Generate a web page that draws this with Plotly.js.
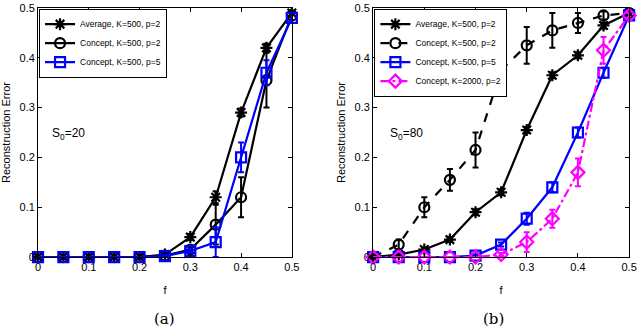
<!DOCTYPE html>
<html><head><meta charset="utf-8">
<script src="https://cdn.plot.ly/plotly-3.0.1.min.js"></script>
<style>html,body{margin:0;padding:0;background:#fff}</style>
</head><body><div id="chart" style="width:640px;height:331px"></div>
<script>
// f values
const f = [0,0.05,0.1,0.15,0.2,0.25,0.3,0.35,0.4,0.45,0.5];

// Panel (a), S0=20
const aAvg      = [0,0,0,0,0,0.005,0.04,0.12,0.29,0.42,0.49];
const aAvgErr   = [0,0,0,0,0,0.002,0.006,0.012,0.008,0.008,0.005];
const aCon2     = [0,0,0,0,0,0.003,0.015,0.065,0.12,0.355,0.485];
const aCon2Err  = [0,0,0,0,0,0.002,0.005,0.04,0.04,0.055,0.01];
const aCon5     = [0,0,0,0,0,0.002,0.012,0.03,0.2,0.37,0.48];
const aCon5Err  = [0,0,0,0,0,0.002,0.004,0.03,0.03,0.025,0.01];

// Panel (b), S0=80
const bAvg      = [0,0.005,0.015,0.035,0.09,0.13,0.255,0.365,0.405,0.465,0.49];
const bAvgErr   = [0,0.002,0.004,0.005,0.006,0.006,0.006,0.006,0.006,0.006,0.004];
const bCon2     = [0,0.025,0.1,0.155,0.215,0.375,0.425,0.455,0.47,0.485,0.49];
const bCon2Err  = [0,0.01,0.02,0.022,0.035,0.035,0.037,0.035,0.02,0.008,0.004];
const bCon5     = [0,0,0,0,0.003,0.025,0.077,0.14,0.25,0.37,0.485];
const bCon5Err  = [0,0,0,0,0.002,0.004,0.012,0.01,0.01,0.01,0.004];
const bCon2k    = [0,0,0,0,0,0.005,0.03,0.077,0.17,0.415,0.485];
const bCon2kErr = [0,0,0,0,0,0.003,0.02,0.018,0.028,0.027,0.005];

const names = ['Average, K=500, p=2','Concept, K=500, p=2','Concept, K=500, p=5','Concept, K=2000, p=2'];
const ticks = [0,0.1,0.2,0.3,0.4,0.5];
const tickText = ['0','0.1','0.2','0.3','0.4','0.5'];

function tr(y, err, name, color, symbol, dash, xa, ya, leg){
  return {x:f, y:y, name:name, type:'scatter', mode:'lines+markers',
    xaxis:xa, yaxis:ya, legend:leg, cliponaxis:false,
    line:{color:color, width:2.2, dash:dash},
    marker:{symbol:symbol, size:10, color:color, line:{color:color, width:2.2}},
    error_y:{type:'data', array:err, visible:true, color:color, thickness:2, width:3}};
}

const data = [
  tr(aAvg,aAvgErr,names[0],'#000','asterisk-open','solid','x','y','legend'),
  tr(aCon2,aCon2Err,names[1],'#000','circle-open','solid','x','y','legend'),
  tr(aCon5,aCon5Err,names[2],'#0000ff','square-open','solid','x','y','legend'),
  tr(bAvg,bAvgErr,names[0],'#000','asterisk-open','solid','x2','y2','legend2'),
  tr(bCon2,bCon2Err,names[1],'#000','circle-open','dash','x2','y2','legend2'),
  tr(bCon5,bCon5Err,names[2],'#0000ff','square-open','solid','x2','y2','legend2'),
  tr(bCon2k,bCon2kErr,names[3],'#ff00ff','diamond-open','dashdot','x2','y2','legend2')
];

const axFont = {family:'Liberation Sans, Arial, sans-serif', size:11, color:'#000'};
function xax(dom, anchor){
  return {domain:dom, anchor:anchor, range:[0,0.5], tickmode:'array', tickvals:ticks, ticktext:tickText,
    ticks:'inside', ticklen:4, tickcolor:'#000', showline:true, linecolor:'#000', linewidth:1,
    mirror:'ticks', showgrid:false, zeroline:false, tickfont:axFont,
    title:{text:'f', font:axFont, standoff:14}};
}
function yax(anchor){
  return {domain:[0.229,1], anchor:anchor, range:[0,0.5], tickmode:'array', tickvals:ticks, ticktext:tickText,
    ticks:'inside', ticklen:4, tickcolor:'#000', showline:true, linecolor:'#000', linewidth:1,
    mirror:'ticks', showgrid:false, zeroline:false, tickfont:axFont,
    title:{text:'Reconstruction Error', font:axFont, standoff:6}};
}
const legFont = {family:'Liberation Sans, Arial, sans-serif', size:8.5, color:'#000'};

const layout = {
  width:640, height:331, margin:{l:0,r:0,t:8,b:0},
  paper_bgcolor:'#fff', plot_bgcolor:'#fff', showlegend:true,
  xaxis:xax([0.0594,0.456],'y'), yaxis:yax('x'),
  xaxis2:xax([0.583,0.983],'y2'), yaxis2:yax('x2'),
  legend:{x:0.061,y:0.998,xanchor:'left',yanchor:'top',bgcolor:'#fff',bordercolor:'#000',borderwidth:1,
    font:legFont, itemwidth:30, tracegroupgap:0},
  legend2:{x:0.585,y:0.998,xanchor:'left',yanchor:'top',bgcolor:'#fff',bordercolor:'#000',borderwidth:1,
    font:legFont, itemwidth:30, tracegroupgap:0},
  annotations:[
    {xref:'paper',yref:'paper',x:0.078,y:0.61,xanchor:'left',yanchor:'middle',showarrow:false,
     text:'S<sub>0</sub>=20', font:{family:'Liberation Sans, Arial, sans-serif',size:12,color:'#000'}},
    {xref:'paper',yref:'paper',x:0.606,y:0.61,xanchor:'left',yanchor:'middle',showarrow:false,
     text:'S<sub>0</sub>=80', font:{family:'Liberation Sans, Arial, sans-serif',size:12,color:'#000'}},
    {xref:'paper',yref:'paper',x:0.257,y:0.037,xanchor:'center',yanchor:'middle',showarrow:false,
     text:'(a)', font:{family:'DejaVu Serif, Liberation Serif, serif',size:15,color:'#000'}},
    {xref:'paper',yref:'paper',x:0.771,y:0.037,xanchor:'center',yanchor:'middle',showarrow:false,
     text:'(b)', font:{family:'DejaVu Serif, Liberation Serif, serif',size:15,color:'#000'}}
  ]
};
Plotly.newPlot('chart', data, layout, {staticPlot:true, displayModeBar:false});
</script></body></html>
